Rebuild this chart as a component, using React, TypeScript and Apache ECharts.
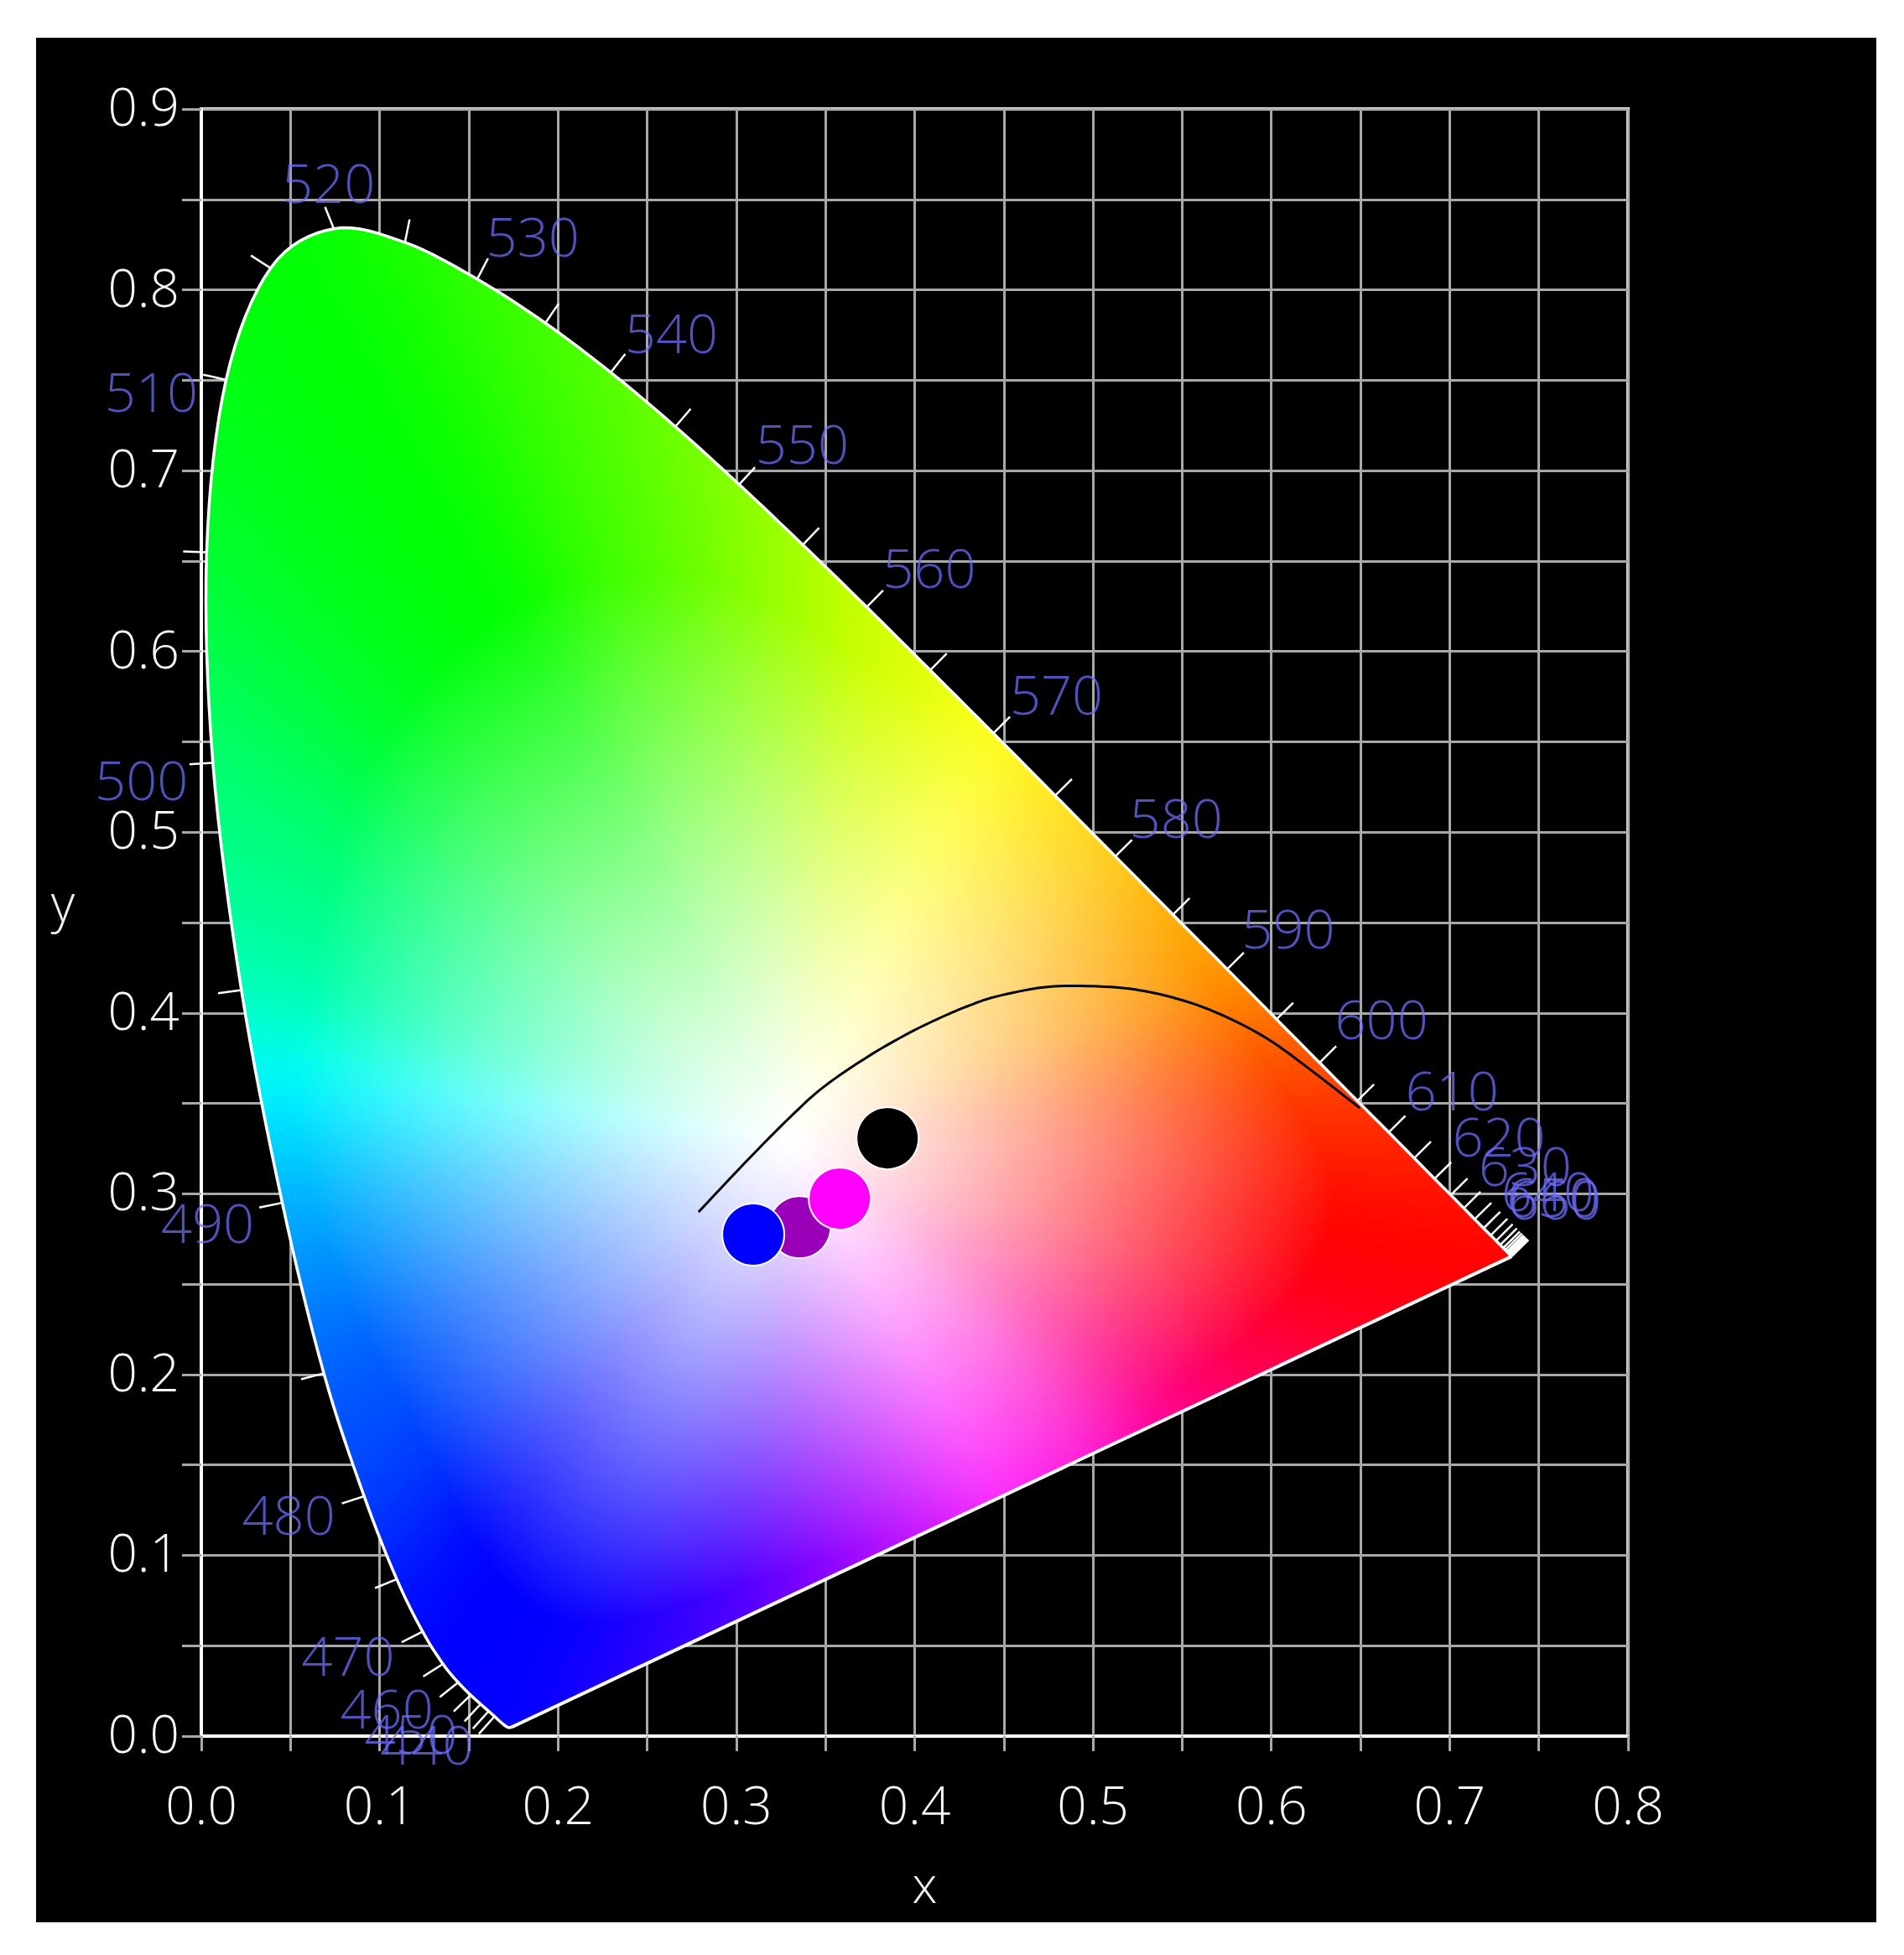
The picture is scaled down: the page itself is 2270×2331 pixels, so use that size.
import React, { useEffect, useRef } from "react";
import * as echarts from "echarts";

// CIE 1931 spectrum locus, every 5 nm from 380 to 700 nm
const locusX = [0.1741,0.1740,0.1738,0.1736,0.1733,0.1730,0.1726,0.1721,0.1714,0.1703,0.1689,0.1669,0.1644,0.1611,0.1566,0.1510,0.1440,0.1355,0.1241,0.1096,0.0913,0.0687,0.0454,0.0225,0.0065,0.0030,0.0139,0.0389,0.0743,0.1142,0.1547,0.1929,0.2296,0.2658,0.3016,0.3373,0.3731,0.4087,0.4441,0.4788,0.5125,0.5448,0.5752,0.6029,0.6270,0.6482,0.6658,0.6801,0.6915,0.7006,0.7079,0.7140,0.7190,0.7230,0.7260,0.7283,0.7300,0.7311,0.7320,0.7327,0.7334,0.7340,0.7344,0.7346,0.7347];
const locusY = [0.0050,0.0050,0.0049,0.0049,0.0048,0.0048,0.0048,0.0048,0.0051,0.0058,0.0069,0.0086,0.0109,0.0138,0.0177,0.0227,0.0297,0.0399,0.0578,0.0868,0.1327,0.2007,0.2950,0.4127,0.5384,0.6548,0.7502,0.8120,0.8338,0.8262,0.8059,0.7816,0.7543,0.7243,0.6923,0.6589,0.6245,0.5896,0.5547,0.5202,0.4866,0.4544,0.4242,0.3965,0.3725,0.3514,0.3340,0.3197,0.3083,0.2993,0.2920,0.2859,0.2809,0.2770,0.2740,0.2717,0.2700,0.2689,0.2680,0.2673,0.2666,0.2660,0.2656,0.2654,0.2653];
const firstTickIndex = 12; // 440 nm

// wavelength labels
const waveLabels = ["520","530","540","550","560","570","580","590","600","610","620","630","640","650","660","510","500","490","480","470","460","450","440"];
const waveLabelX = [0.0713,0.1859,0.2636,0.3369,0.4082,0.4795,0.5466,0.6095,0.6618,0.7013,0.7276,0.7423,0.7550,0.7580,0.7590,-0.0280,-0.0335,0.0035,0.0490,0.0823,0.1040,0.1176,0.1265];
const waveLabelY = [0.8577,0.8281,0.7747,0.7136,0.6447,0.5750,0.5068,0.4454,0.3952,0.3559,0.3301,0.3140,0.3003,0.2970,0.2956,0.7425,0.5275,0.2825,0.1210,0.0431,0.0139,0.0000,-0.0060];

// Planckian locus
const planckX = [0.2788,0.3090,0.3325,0.3495,0.3735,0.3951,0.4125,0.4290,0.4454,0.4723,0.4962,0.5235,0.5503,0.5743,0.5983,0.6223,0.6496];
const planckY = [0.2899,0.3214,0.3446,0.3595,0.3757,0.3880,0.3965,0.4035,0.4090,0.4142,0.4149,0.4130,0.4070,0.3980,0.3854,0.3683,0.3474];

// measured points, in drawing order
const pointX = [0.3848,0.3355,0.3580,0.3095];
const pointY = [0.3307,0.2815,0.2973,0.2774];
const pointColor = ["#000000","#9a00b8","#ff00ff","#0000ff"];

// colour field: anchors on the locus border, their colour and the saturation distance
const whiteX = 0.33;
const whiteY = 0.33;
const anchorX = [0.7347,0.6482,0.6029,0.5752,0.5125,0.4441,0.3731,0.3016,0.2296,0.1547,0.0743,0.0139,0.0039,0.0082,0.0235,0.0350,0.0454,0.0687,0.0913,0.1241,0.1714,0.30,0.34,0.445,0.50,0.55,0.61,0.70];
const anchorY = [0.2653,0.3514,0.3965,0.4242,0.4866,0.5547,0.6245,0.6923,0.7543,0.8059,0.8338,0.7502,0.6548,0.5384,0.4127,0.3700,0.2950,0.2007,0.1327,0.0578,0.0051,0.066,0.085,0.134,0.16,0.183,0.211,0.2535];
const anchorColor = ["#ff0000","#ff3800","#ff7000","#ff9800","#ffcc20","#ffff20","#ccff00","#88ff00","#55ff00","#33ff00","#00ff00","#00ff10","#00ff30","#00ff70","#00ffb8","#00ffff","#00b0ff","#0060ff","#0040ff","#0000ff","#0000ff","#5000ff","#8000ff","#ff30ff","#ff20d0","#ff0080","#ff0040","#ff0000"];
const anchorSat = [0.82,0.88,0.92,0.95,1.0,1.0,0.9,0.85,0.72,0.66,0.6,0.62,0.7,0.78,0.88,0.93,0.95,0.9,0.85,0.84,0.86,0.92,0.95,1.0,1.0,0.95,0.9,0.82];

const X_MIN = 0, X_MAX = 0.8, Y_MIN = 0, Y_MAX = 0.9, STEP = 0.05;
const isMajor = (v: number) => Math.abs(v * 10 - Math.round(v * 10)) < 1e-6;
const tickLabel = (v: number) => isMajor(v) ? v.toFixed(1) : "";
const yTickLabel = (v: number) => isMajor(v) ? `{v|${v.toFixed(1)}}\n{s| }` : "";

function hex(c: string) {
  return [parseInt(c.slice(1, 3), 16), parseInt(c.slice(3, 5), 16), parseInt(c.slice(5, 7), 16)];
}

function blur(a: Float64Array, w: number, passes: number) {
  const n = a.length;
  let cur = a;
  for (let p = 0; p < passes; p++) {
    const next = new Float64Array(n);
    let sum = 0;
    for (let i = -w; i <= w; i++) sum += cur[(i + n) % n];
    for (let i = 0; i < n; i++) {
      next[i] = sum / (2 * w + 1);
      sum += cur[(i + w + 1) % n] - cur[(i - w + n) % n];
    }
    cur = next;
  }
  return cur;
}

// smooth curve through points already in pixels
function spline(P: number[][], steps = 8) {
  const out: number[][] = [P[0]];
  const n = P.length;
  for (let i = 0; i < n - 1; i++) {
    const p0 = P[Math.max(0, i - 1)], p1 = P[i], p2 = P[i + 1], p3 = P[Math.min(n - 1, i + 2)];
    for (let s = 1; s <= steps; s++) {
      const t = s / steps, t2 = t * t, t3 = t2 * t;
      out.push([0, 1].map((d) => 0.5 * (2 * p1[d] + (p2[d] - p0[d]) * t + (2 * p0[d] - 5 * p1[d] + 4 * p2[d] - p3[d]) * t2 + (3 * p1[d] - p0[d] - 3 * p2[d] + p3[d]) * t3)));
    }
  }
  return out;
}

function buildColourField(): string {
  const W = 1134, H = 1293, N = 1440;
  const TWO_PI = Math.PI * 2;
  const n = locusX.length;
  let radius = new Float64Array(N);
  for (let k = 0; k < N; k++) {
    const a = (k / N) * TWO_PI - Math.PI;
    const ux = Math.cos(a), uy = Math.sin(a);
    let best = 0.001;
    for (let i = 0; i < n; i++) {
      const ax = locusX[i] - whiteX, ay = locusY[i] - whiteY;
      const j = (i + 1) % n;
      const ex = locusX[j] - locusX[i], ey = locusY[j] - locusY[i];
      const den = ux * ey - uy * ex;
      if (Math.abs(den) < 1e-12) continue;
      const r = (ax * ey - ay * ex) / den;
      const s = (ax * uy - ay * ux) / den;
      if (r > best && s >= -1e-6 && s <= 1 + 1e-6) best = r;
    }
    radius[k] = best;
  }
  radius = blur(radius, 24, 3);
  const anchors = anchorX.map((x, i) => ({
    a: Math.atan2(anchorY[i] - whiteY, x - whiteX),
    c: hex(anchorColor[i]),
    s: anchorSat[i],
  })).sort((p, q) => p.a - q.a);
  let lutR = new Float64Array(N), lutG = new Float64Array(N), lutB = new Float64Array(N), lutS = new Float64Array(N);
  for (let k = 0; k < N; k++) {
    const a = (k / N) * TWO_PI - Math.PI;
    let hi = anchors.findIndex((p) => p.a >= a);
    if (hi < 0) hi = 0;
    const lo = (hi - 1 + anchors.length) % anchors.length;
    const P = anchors[lo], Q = anchors[hi];
    let span = Q.a - P.a; if (span <= 0) span += TWO_PI;
    let d = a - P.a; if (d < 0) d += TWO_PI;
    const f = Math.min(1, d / span);
    lutR[k] = P.c[0] + (Q.c[0] - P.c[0]) * f;
    lutG[k] = P.c[1] + (Q.c[1] - P.c[1]) * f;
    lutB[k] = P.c[2] + (Q.c[2] - P.c[2]) * f;
    lutS[k] = P.s + (Q.s - P.s) * f;
  }
  lutR = blur(lutR, 12, 3); lutG = blur(lutG, 12, 3); lutB = blur(lutB, 12, 3); lutS = blur(lutS, 20, 3);
  const cv = document.createElement("canvas");
  cv.width = W; cv.height = H;
  const ctx = cv.getContext("2d")!;
  const img = ctx.createImageData(W, H);
  for (let py = 0; py < H; py++) {
    const y = Y_MAX - ((py + 0.5) / H) * (Y_MAX - Y_MIN);
    for (let px = 0; px < W; px++) {
      const x = X_MIN + ((px + 0.5) / W) * (X_MAX - X_MIN);
      const dx = x - whiteX, dy = y - whiteY;
      const a = Math.atan2(dy, dx);
      const k = Math.min(N - 1, Math.floor(((a + Math.PI) / TWO_PI) * N));
      const t = Math.sqrt(dx * dx + dy * dy) / radius[k];
      const s = Math.pow(Math.min(1, t / lutS[k]), 1.2);
      const o = (py * W + px) * 4;
      img.data[o] = 255 + (lutR[k] - 255) * s;
      img.data[o + 1] = 255 + (lutG[k] - 255) * s;
      img.data[o + 2] = 255 + (lutB[k] - 255) * s;
      img.data[o + 3] = 255;
    }
  }
  ctx.putImageData(img, 0, 0);
  const out = document.createElement("canvas");
  out.width = W; out.height = H;
  const c2 = out.getContext("2d")!;
  const P = spline(locusX.map((x, i) => [((x - X_MIN) / (X_MAX - X_MIN)) * W, ((Y_MAX - locusY[i]) / (Y_MAX - Y_MIN)) * H]));
  c2.beginPath();
  P.forEach((p, i) => { if (i === 0) c2.moveTo(p[0], p[1]); else c2.lineTo(p[0], p[1]); });
  c2.closePath();
  c2.clip();
  c2.drawImage(cv, 0, 0);
  return out.toDataURL("image/png");
}

const FONT = '"Open Sans", "Noto Sans", sans-serif';

export default function App() {
  const ref = useRef<HTMLDivElement>(null);
  useEffect(() => {
    const chart = echarts.init(ref.current!, undefined, { renderer: "svg" });
    const field = buildColourField();
    const tickData: number[][] = [];
    for (let i = firstTickIndex; i < locusX.length; i++) tickData.push([locusX[i], locusY[i], i]);
    const last = locusX.length - 1;

    const curveItem = (xs: number[], ys: number[], stroke: string, lineWidth: number) => (_p: any, api: any) => ({
      type: "polyline",
      shape: { points: spline(xs.map((x, i) => api.coord([x, ys[i]]))) },
      style: { stroke, lineWidth, fill: null, lineJoin: "round" },
    });

    const labelFont = { color: "#f8f8f8", fontSize: 62, fontFamily: FONT, fontWeight: 300 };
    const axisCommon = {
      type: "value" as const,
      interval: STEP,
      axisLine: { show: true, lineStyle: { color: "#ffffff", width: 3 } },
      splitLine: { show: true, lineStyle: { color: "#a8a8a8", width: 3 } },
      axisLabel: { ...labelFont, formatter: tickLabel, showMinLabel: true, showMaxLabel: true },
      nameTextStyle: { color: "#f0f0f0", fontSize: 60, fontFamily: FONT, fontWeight: 300 },
      nameLocation: "middle" as const,
    };

    chart.setOption({
      animation: false,
      backgroundColor: "#ffffff",
      graphic: [
        { type: "rect", z: -1, silent: true, shape: { x: 43, y: 45, width: 2194, height: 2247 }, style: { fill: "#000000" } },
        { type: "text", silent: true, x: 75, y: 1075, style: { text: "y", align: "center", verticalAlign: "middle", fill: "#f0f0f0", font: `300 62px ${FONT}` } },
      ],
      grid: { left: 240, right: 329, top: 130, bottom: 261, show: true, borderColor: "#ffffff", borderWidth: 4, backgroundColor: "transparent" },
      xAxis: {
        ...axisCommon, min: X_MIN, max: X_MAX, name: "x", nameGap: 146,
        nameTextStyle: { ...axisCommon.nameTextStyle, padding: [0, 0, 0, 24] },
        axisTick: { show: true, length: 18, lineStyle: { color: "#a8a8a8", width: 3 } },
        axisLabel: { ...axisCommon.axisLabel, margin: 50 },
      },
      yAxis: {
        ...axisCommon, min: Y_MIN, max: Y_MAX,
        axisTick: { show: true, length: 23, lineStyle: { color: "#a8a8a8", width: 3 } },
        axisLabel: {
          ...axisCommon.axisLabel, margin: 26, formatter: yTickLabel,
          rich: { v: { ...labelFont, lineHeight: 72 }, s: { fontSize: 6, lineHeight: 8 } },
        },
      },
      series: [
        {
          type: "custom", name: "gamut", z: 3, silent: true, clip: false,
          data: [[X_MIN, Y_MIN]], encode: { x: 0, y: 1 },
          renderItem: (_p: any, api: any) => {
            const tl = api.coord([X_MIN, Y_MAX]);
            const br = api.coord([X_MAX, Y_MIN]);
            return { type: "image", style: { image: field, x: tl[0], y: tl[1], width: br[0] - tl[0], height: br[1] - tl[1] } };
          },
        },
        {
          type: "custom", name: "spectrum locus", z: 4, silent: true, clip: false,
          data: [[locusX[0], locusY[0]]], encode: { x: 0, y: 1 },
          renderItem: curveItem(locusX, locusY, "#ffffff", 3.5),
        },
        {
          type: "line", name: "purple line", z: 4, silent: true, clip: false, symbol: "none",
          data: [[locusX[last], locusY[last]], [locusX[0], locusY[0]]], lineStyle: { color: "#ffffff", width: 4 },
        },
        {
          type: "custom", name: "wavelength ticks", z: 4, silent: true, clip: false,
          data: tickData, encode: { x: 0, y: 1 },
          renderItem: (_p: any, api: any) => {
            const i = api.value(2);
            const a = api.coord([locusX[Math.max(0, i - 2)], locusY[Math.max(0, i - 2)]]);
            const b = api.coord([locusX[Math.min(last, i + 2)], locusY[Math.min(last, i + 2)]]);
            const p = api.coord([locusX[i], locusY[i]]);
            const tx = b[0] - a[0], ty = b[1] - a[1];
            const len = Math.hypot(tx, ty) || 1;
            const nx = ty / len, ny = -tx / len;
            return {
              type: "line",
              shape: { x1: p[0], y1: p[1], x2: p[0] + nx * 28, y2: p[1] + ny * 28 },
              style: { stroke: "#ffffff", lineWidth: 2.5 },
            };
          },
        },
        {
          type: "custom", name: "planckian", z: 5, silent: true, clip: false,
          data: [[planckX[0], planckY[0]]], encode: { x: 0, y: 1 },
          renderItem: curveItem(planckX, planckY, "#000000", 3),
        },
        {
          type: "scatter", name: "points", z: 6, silent: true, clip: false, symbolSize: 74,
          data: pointX.map((x, i) => ({ value: [x, pointY[i]], itemStyle: { color: pointColor[i], opacity: 1, borderColor: "#ffffff", borderWidth: 2 } })),
        },
        {
          type: "custom", name: "wavelength labels", z: 7, silent: true, clip: false,
          data: waveLabels.map((w, i) => [waveLabelX[i], waveLabelY[i], i]), encode: { x: 0, y: 1 },
          renderItem: (_p: any, api: any) => {
            const p = api.coord([api.value(0), api.value(1)]);
            return {
              type: "text",
              style: {
                x: p[0], y: p[1] - 4, text: waveLabels[api.value(2)], align: "center", verticalAlign: "middle",
                fill: "rgba(110,110,255,0.75)", font: `300 65px ${FONT}`,
              },
            };
          },
        },
      ],
    });
    return () => chart.dispose();
  }, []);
  return <div ref={ref} style={{ position: "absolute", left: 0, top: 0, width: 2270, height: 2331 }} />;
}
